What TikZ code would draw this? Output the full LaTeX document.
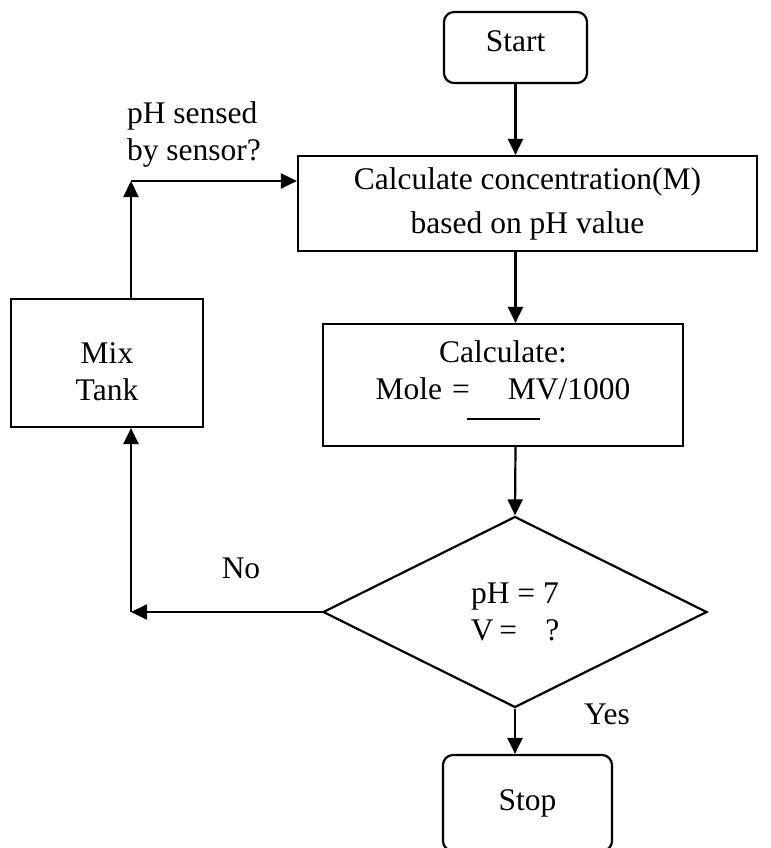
\documentclass[tikz,border=0pt]{standalone}
\usepackage{fontspec}
\setmainfont{Liberation Serif}
\usetikzlibrary{shapes.geometric,arrows.meta}

\begin{document}
\begin{tikzpicture}[x=0.5pt,y=-0.5pt,line width=1.1pt,>={Triangle[length=8pt,width=7.5pt]},font=\fontsize{15.75}{18.5}\selectfont]
	\tikzstyle{TermStyle}=[draw,rounded corners=5pt,align=center]
	\tikzstyle{StepStyle}=[draw,align=center]
	\tikzstyle{TestStyle}=[draw,diamond,align=center,inner sep=0pt]
	\tikzstyle{NoteStyle}=[inner sep=0pt,align=left]
	\useasboundingbox (0,0) rectangle (771,848);
	\clip (0,0) rectangle (771,848);
	\node[TermStyle,minimum width=71.5pt,minimum height=35.5pt,text depth=6pt] (Start) at (515.5,47.5) {Start};
	\node[StepStyle,minimum width=229.5pt,minimum height=47.5pt] (Calc) at (527.5,203.5) {Calculate concentration(M)\\[3.5pt]based on pH value};
	\node[StepStyle,minimum width=180pt,minimum height=61pt] (Mole) at (503,385) {Calculate:\\Mole\hspace{5pt}=\hspace{19pt}MV/1000\\[-8.5pt]\rule{36.5pt}{0.8pt}\rule[-4.5pt]{0pt}{4.5pt}};
	\node[TestStyle,minimum width=192pt,minimum height=95.5pt] (Test) at (515,612) {pH = 7\\V\hspace{3pt}=\hspace{14pt}?};
	\node[TermStyle,minimum width=84.5pt,minimum height=48pt] (Stop) at (527.5,803) {Stop};
	\node[StepStyle,minimum width=96pt,minimum height=64pt] (Mix) at (107,363) {\rule{0pt}{19pt}Mix\\Tank};
	\coordinate (NoCorner) at (131,612);
	\coordinate (UpCorner) at (131,181);
	\node[NoteStyle,anchor=west] (Sensed) at (126,134) {pH sensed\\by sensor?};
	\node (No) at (241,568) {No};
	\node (Yes) at (607,714) {Yes};
	\draw[->] (Start.south) -- (Start.south |- Calc.north);
	\draw[->] (Start.south |- Calc.south) -- (Start.south |- Mole.north);
	\draw[->] (Start.south |- Mole.south) -- (Test.north);
	\draw[->] (Test.south) -- (Test.south |- Stop.north);
	\draw[->] (Test.west) -- (NoCorner);
	\draw[->] (NoCorner) -- (NoCorner |- Mix.south);
	\draw[->] (NoCorner |- Mix.north) -- (UpCorner);
	\draw[->] (UpCorner) -- (UpCorner -| Calc.west);
\end{tikzpicture}
\end{document}
